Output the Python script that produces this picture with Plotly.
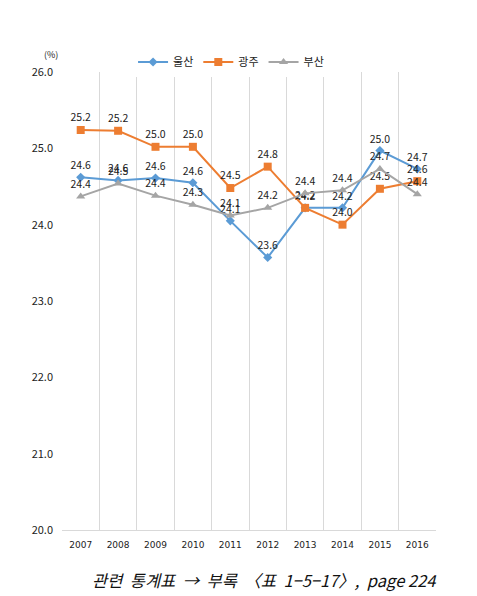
import plotly.graph_objects as go

years = ["2007", "2008", "2009", "2010", "2011", "2012", "2013", "2014", "2015", "2016"]
ulsan = [24.62, 24.58, 24.61, 24.55, 24.05, 23.57, 24.22, 24.22, 24.97, 24.73]
gwangju = [25.24, 25.23, 25.02, 25.02, 24.48, 24.76, 24.22, 24.00, 24.47, 24.57]
busan = [24.37, 24.54, 24.38, 24.26, 24.12, 24.22, 24.41, 24.45, 24.73, 24.40]

FONT = "Noto Sans CJK KR"

fig = go.Figure()
series = [
    ("울산", ulsan, "#5B9BD5", "diamond", 7),
    ("광주", gwangju, "#ED7D31", "square", 8),
    ("부산", busan, "#A5A5A5", "triangle-up", 8),
]
for name, vals, col, sym, sz in series:
    fig.add_trace(go.Scatter(
        x=years, y=vals, name=name, mode="lines+markers+text",
        line=dict(color=col, width=2),
        marker=dict(symbol=sym, size=sz, color=col),
        text=[f"{v:.1f}" for v in vals], textposition="top center",
        textfont=dict(size=10.5, color="#222222", family=FONT),
        cliponaxis=False,
    ))

fig.update_layout(
    width=477, height=596,
    margin=dict(l=54, r=49, t=64, b=74, autoexpand=False),
    paper_bgcolor="white", plot_bgcolor="white",
    font=dict(family=FONT, color="#222222"),
    showlegend=True,
    legend=dict(orientation="h", x=0.452, xanchor="center",
                yref="container", y=1 - 54 / 596, yanchor="middle",
                font=dict(size=11, family=FONT), tracegroupgap=0),
    xaxis=dict(type="category", tickson="boundaries", showgrid=True,
               gridcolor="#D9D9D9", gridwidth=1, showline=True, linecolor="#D9D9D9",
               ticks="", ticklabelstandoff=6,
               tickfont=dict(size=9, family="DejaVu Sans", color="#222222"),
               range=[-0.5, 9.5]),
    yaxis=dict(range=[20, 26], dtick=1, tickformat=".1f", showgrid=False,
               zeroline=False, showline=False, ticks="", ticklabelstandoff=8,
               tickfont=dict(size=11, family=FONT, color="#222222")),
    annotations=[
        dict(text="(%)", xref="paper", yref="paper", x=-0.005, y=1.02,
             xanchor="right", yanchor="bottom", showarrow=False,
             font=dict(size=9, family=FONT, color="#222222")),
        dict(text="<i>관련&nbsp;&nbsp;통계표&nbsp;&nbsp;→&nbsp;&nbsp;부록&nbsp;&nbsp;〈표&nbsp;&nbsp;1−5−17〉,&nbsp;&nbsp;page&nbsp;224</i>",
             xref="paper", yref="paper", x=1.005, y=-50 / 458, xanchor="right", yanchor="middle",
             showarrow=False, font=dict(size=16.5, family=FONT, color="#111111")),
    ],
)

fig.write_html("out.html")
